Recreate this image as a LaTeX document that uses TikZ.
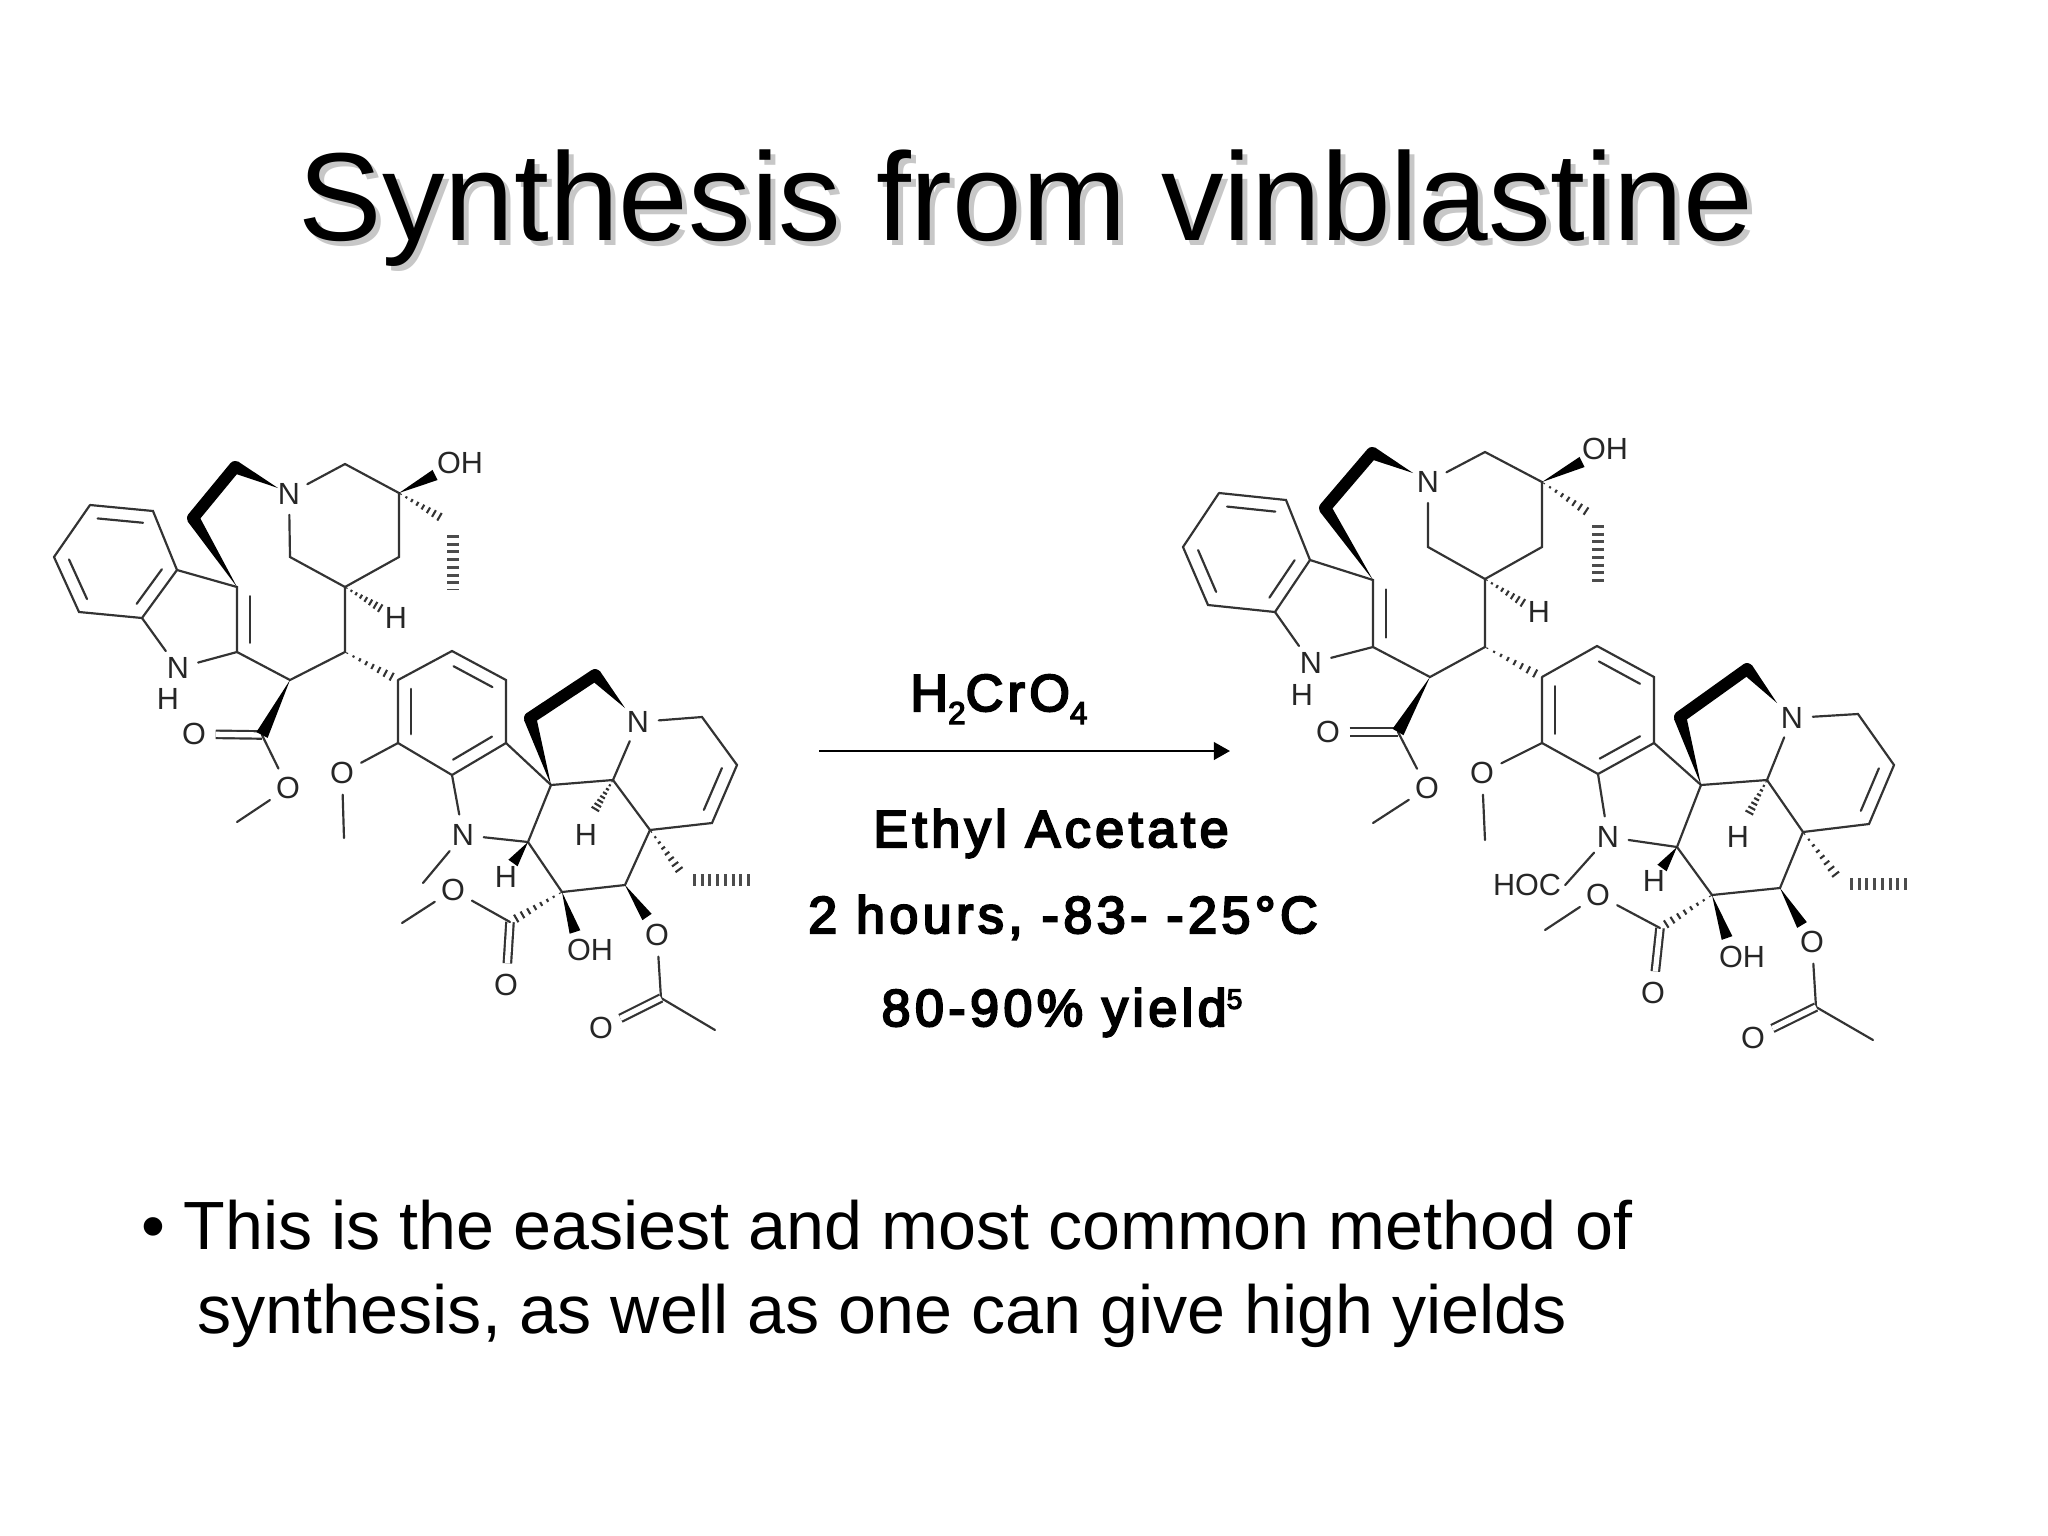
\documentclass[tikz,border=0pt]{standalone}
\usepackage{fontspec}
\setmainfont{Liberation Sans}
\newfontfamily\reagentfont[LetterSpace=8.5,FakeBold=4]{Liberation Sans}
\usetikzlibrary{calc,arrows.meta}
\tikzset{
  atom/.style={circle,inner sep=1pt,text=black!85,font=\fontsize{8.7}{10}\selectfont},
  bond/.style={draw=black!80,line width=0.62pt,line cap=round},
  dbond/.style={bond,line cap=butt,double=white,double distance=1.5pt},
  thickbond/.style={draw=black,line width=3.4pt,line cap=round},
  methylhash/.style={draw=black!70,line width=3.2pt,dash pattern=on 0.8pt off 1.4pt},
  reagent/.style={anchor=base,inner sep=0pt,font=\fontsize{14.8}{18}\selectfont\reagentfont},
  titletext/.style={anchor=base west,inner sep=0pt,font=\fontsize{35.6}{40}\selectfont},
  bodytext/.style={anchor=base west,inner sep=0pt,font=\fontsize{19.4}{22}\selectfont}
}
% narrow at #2, wide at #3
\newcommand{\wedgebond}[3][1.6pt]{\fill[black] (#2)--($(#3)!#1!90:(#2)$)--($(#3)!#1!-90:(#2)$)--cycle;}
\newcommand{\hashbond}[2]{\foreach \t in {0.04,0.16,...,0.96}{
  \pgfmathsetmacro{\hw}{\t*1.3+0.1}
  \draw[draw=black!80,line width=0.6pt] ($(#1)!\t!(#2)!\hw pt!90:(#2)$)--($(#1)!\t!(#2)!\hw pt!-90:(#2)$);}}
% short inner line of a double bond, on the right hand of #1 to #2
\newcommand{\innerbond}[2]{\draw[bond] ($(#1)!.14!(#2)!3.6pt!-90:(#2)$)--($(#2)!.14!(#1)!3.6pt!90:(#1)$);}
\newcommand{\subnum}[1]{\raisebox{-0.25em}{\fontsize{9}{9}\selectfont #1}}
\begin{document}
\begin{tikzpicture}[x=0.01cm,y=-0.01cm]
\useasboundingbox (0,0) rectangle (2048,1536);
\node[titletext,text=black!22] (titleshadow) at (303,245) {Synthesis from vinblastine};
\node[titletext] (title) at (298,240) {Synthesis from vinblastine};
% left molecule, upper half
\coordinate (lA1) at (90,505);
\coordinate (lA2) at (153,511);
\coordinate (lA3) at (177,570);
\coordinate (lA4) at (142,618);
\coordinate (lA5) at (79,612);
\coordinate (lA6) at (54,557);
\coordinate (lC3) at (237,587);
\coordinate (lC2) at (237,652);
\coordinate (lC16) at (290,680);
\coordinate (lC17) at (262,735);
\coordinate (lC18) at (345,652);
\coordinate (lC19) at (345,587);
\coordinate (lC20) at (290,557);
\coordinate (lC21) at (345,464);
\coordinate (lC22) at (399,493);
\coordinate (lC23) at (399,557);
\coordinate (lP1) at (193,518);
\coordinate (lP2) at (235,467);
\coordinate (lP5) at (278,488);
\coordinate (lW4) at (435,475);
\coordinate (lH2e) at (385,611);
\coordinate (lE1) at (445,520);
\coordinate (lE2) at (453,535);
\coordinate (lE3) at (453,590);
\coordinate (lMe1) at (237,822);
\node[atom] (lN1) at (178,668) {N};
\node[atom] (lH1) at (168,699) {H};
\node[atom] (lN2) at (289,494) {N};
\node[atom] (lO1) at (194,734) {O};
\node[atom] (lO2) at (288,788) {O};
\node[atom] (lOH1) at (460,463) {OH};
\node[atom] (lH2) at (396,618) {H};
\draw[bond] (lA1)--(lA2)--(lA3)--(lA4)--(lA5)--(lA6)--(lA1);
\innerbond{lA1}{lA2}
\innerbond{lA3}{lA4}
\innerbond{lA5}{lA6}
\draw[bond] (lA3)--(lC3)--(lC2)--(lN1)--(lA4);
\innerbond{lC2}{lC3}
\draw[bond] (lC2)--(lC16)--(lC18)--(lC19)--(lC20)--(lN2)--(lC21)--(lC22)--(lC23)--(lC19);
\draw[dbond] (lO1)--(lC17);
\draw[bond] (lC17)--(lO2)--(lMe1);
\wedgebond[1.8pt]{lC16}{lC17}
\wedgebond[1.8pt]{lC3}{lP1}
\draw[thickbond] (lP1)--(lP2);
\wedgebond[1.8pt]{lP5}{lP2}
\wedgebond{lC22}{lW4}
\hashbond{lC19}{lH2e}
\hashbond{lC22}{lE1}
\draw[methylhash] (lE2)--(lE3);
% left molecule, lower half
\coordinate (lR1) at (398,680);
\coordinate (lR2) at (452,651);
\coordinate (lR3) at (506,680);
\coordinate (lR4) at (506,743);
\coordinate (lR5) at (452,775);
\coordinate (lR6) at (398,743);
\coordinate (lC4) at (528,842);
\coordinate (lC5) at (551,785);
\coordinate (lC6) at (613,780);
\coordinate (lC7) at (650,830);
\coordinate (lC8) at (625,885);
\coordinate (lC9) at (562,892);
\coordinate (lC10) at (702,717);
\coordinate (lC11) at (737,765);
\coordinate (lC12) at (712,823);
\coordinate (lC13) at (510,922);
\coordinate (lC14) at (661,998);
\coordinate (lP3) at (530,718);
\coordinate (lP4) at (595,675);
\coordinate (lP6) at (625,708);
\coordinate (lH3e) at (593,813);
\coordinate (lW1) at (513,863);
\coordinate (lW2) at (575,932);
\coordinate (lW3) at (647,917);
\coordinate (lE4) at (683,875);
\coordinate (lE5) at (693,880);
\coordinate (lE6) at (751,880);
\coordinate (lMe2) at (344,838);
\coordinate (lMe3) at (423,883);
\coordinate (lMe4) at (402,923);
\coordinate (lMe5) at (715,1030);
\node[atom] (lO3) at (342,773) {O};
\node[atom] (lN3) at (463,835) {N};
\node[atom] (lN4) at (638,722) {N};
\node[atom] (lH3) at (586,835) {H};
\node[atom] (lH4) at (506,877) {H};
\node[atom] (lOH2) at (590,950) {OH};
\node[atom] (lO5) at (506,985) {O};
\node[atom] (lO6) at (453,890) {O};
\node[atom] (lO7) at (657,935) {O};
\node[atom] (lO8) at (601,1028) {O};
\draw[bond] (lR1)--(lR2)--(lR3)--(lR4)--(lR5)--(lR6)--(lR1);
\innerbond{lR6}{lR1}
\innerbond{lR2}{lR3}
\innerbond{lR4}{lR5}
\draw[bond] (lR6)--(lO3)--(lMe2);
\draw[bond] (lR5)--(lN3)--(lC4)--(lC5)--(lR4);
\draw[bond] (lN3)--(lMe3);
\draw[bond] (lC5)--(lC6)--(lC7)--(lC8)--(lC9)--(lC4);
\draw[bond] (lC6)--(lN4)--(lC10)--(lC11)--(lC12)--(lC7);
\innerbond{lC11}{lC12}
\draw[dbond] (lC13)--(lO5);
\draw[bond] (lC13)--(lO6)--(lMe4);
\draw[bond] (lO7)--(lC14)--(lMe5);
\draw[dbond] (lC14)--(lO8);
\wedgebond[1.8pt]{lC5}{lP3}
\draw[thickbond] (lP3)--(lP4);
\wedgebond[1.8pt]{lP6}{lP4}
\wedgebond{lC4}{lW1}
\wedgebond{lC9}{lW2}
\wedgebond{lC8}{lW3}
\hashbond{lC18}{lR1}
\hashbond{lC6}{lH3e}
\hashbond{lC7}{lE4}
\hashbond{lC9}{lC13}
\draw[methylhash] (lE5)--(lE6);
% reagents
\coordinate (arrowstart) at (819,751);
\coordinate (arrowend) at (1230,751);
\draw[line width=0.7pt,-{Triangle[length=4.6pt,width=5pt]}] (arrowstart)--(arrowend);
\node[reagent] (oxidant) at (999,711) {H\subnum{2}CrO\subnum{4}};
\node[reagent] (solvent) at (1051,847) {Ethyl Acetate};
\node[reagent] (hours) at (1063,933) {2 hours, -83- -25°C};
\node[reagent] (yield) at (1062,1026) {80-90\% yield\raisebox{0.33em}{\fontsize{8}{8}\selectfont 5}};
% right molecule, upper half
\coordinate (rA1) at (1219,493);
\coordinate (rA2) at (1286,500);
\coordinate (rA3) at (1310,560);
\coordinate (rA4) at (1275,612);
\coordinate (rA5) at (1208,605);
\coordinate (rA6) at (1183,547);
\coordinate (rC3) at (1373,580);
\coordinate (rC2) at (1373,647);
\coordinate (rC16) at (1430,677);
\coordinate (rC17) at (1398,732);
\coordinate (rC18) at (1485,647);
\coordinate (rC19) at (1485,579);
\coordinate (rC20) at (1428,547);
\coordinate (rC21) at (1485,452);
\coordinate (rC22) at (1542,482);
\coordinate (rC23) at (1542,547);
\coordinate (rP1) at (1325,508);
\coordinate (rP2) at (1372,453);
\coordinate (rP5) at (1413,473);
\coordinate (rW4) at (1582,462);
\coordinate (rH2e) at (1528,606);
\coordinate (rE1) at (1592,515);
\coordinate (rE2) at (1598,525);
\coordinate (rE3) at (1598,582);
\coordinate (rMe1) at (1373,823);
\node[atom] (rN1) at (1311,663) {N};
\node[atom] (rH1) at (1302,695) {H};
\node[atom] (rN2) at (1428,482) {N};
\node[atom] (rO1) at (1328,732) {O};
\node[atom] (rO2) at (1427,788) {O};
\node[atom] (rOH1) at (1605,449) {OH};
\node[atom] (rH2) at (1539,612) {H};
\draw[bond] (rA1)--(rA2)--(rA3)--(rA4)--(rA5)--(rA6)--(rA1);
\innerbond{rA1}{rA2}
\innerbond{rA3}{rA4}
\innerbond{rA5}{rA6}
\draw[bond] (rA3)--(rC3)--(rC2)--(rN1)--(rA4);
\innerbond{rC2}{rC3}
\draw[bond] (rC2)--(rC16)--(rC18)--(rC19)--(rC20)--(rN2)--(rC21)--(rC22)--(rC23)--(rC19);
\draw[dbond] (rO1)--(rC17);
\draw[bond] (rC17)--(rO2)--(rMe1);
\wedgebond[1.8pt]{rC16}{rC17}
\wedgebond[1.8pt]{rC3}{rP1}
\draw[thickbond] (rP1)--(rP2);
\wedgebond[1.8pt]{rP5}{rP2}
\wedgebond{rC22}{rW4}
\hashbond{rC19}{rH2e}
\hashbond{rC22}{rE1}
\draw[methylhash] (rE2)--(rE3);
% right molecule, lower half
\coordinate (rR1) at (1542,677);
\coordinate (rR2) at (1597,646);
\coordinate (rR3) at (1654,677);
\coordinate (rR4) at (1654,743);
\coordinate (rR5) at (1598,774);
\coordinate (rR6) at (1542,743);
\coordinate (rC4) at (1677,847);
\coordinate (rC5) at (1701,785);
\coordinate (rC6) at (1767,780);
\coordinate (rC7) at (1803,832);
\coordinate (rC8) at (1780,888);
\coordinate (rC9) at (1712,895);
\coordinate (rC10) at (1858,714);
\coordinate (rC11) at (1894,765);
\coordinate (rC12) at (1869,824);
\coordinate (rC13) at (1660,928);
\coordinate (rC14) at (1816,1007);
\coordinate (rP3) at (1680,717);
\coordinate (rP4) at (1747,669);
\coordinate (rP6) at (1777,703);
\coordinate (rH3e) at (1747,817);
\coordinate (rW1) at (1662,868);
\coordinate (rW2) at (1727,938);
\coordinate (rW3) at (1802,925);
\coordinate (rE4) at (1840,880);
\coordinate (rE5) at (1850,884);
\coordinate (rE6) at (1909,884);
\coordinate (rMe2) at (1485,840);
\coordinate (rMe4) at (1545,930);
\coordinate (rMe5) at (1873,1040);
\node[atom] (rO3) at (1482,773) {O};
\node[atom] (rN3) at (1608,837) {N};
\node[atom] (rN4) at (1792,718) {N};
\node[atom] (rH3) at (1738,837) {H};
\node[atom] (rH4) at (1654,881) {H};
\node[atom] (rOH2) at (1742,957) {OH};
\node[atom] (rO5) at (1653,993) {O};
\node[atom] (rO6) at (1598,895) {O};
\node[atom] (rO7) at (1812,942) {O};
\node[atom] (rO8) at (1753,1038) {O};
\node[atom,rectangle,inner sep=1pt] (rHOC) at (1527,885) {HOC};
\draw[bond] (rR1)--(rR2)--(rR3)--(rR4)--(rR5)--(rR6)--(rR1);
\innerbond{rR6}{rR1}
\innerbond{rR2}{rR3}
\innerbond{rR4}{rR5}
\draw[bond] (rR6)--(rO3)--(rMe2);
\draw[bond] (rR5)--(rN3)--(rC4)--(rC5)--(rR4);
\draw[bond] (rN3)--(rHOC.east);
\draw[bond] (rC5)--(rC6)--(rC7)--(rC8)--(rC9)--(rC4);
\draw[bond] (rC6)--(rN4)--(rC10)--(rC11)--(rC12)--(rC7);
\innerbond{rC11}{rC12}
\draw[dbond] (rC13)--(rO5);
\draw[bond] (rC13)--(rO6)--(rMe4);
\draw[bond] (rO7)--(rC14)--(rMe5);
\draw[dbond] (rC14)--(rO8);
\wedgebond[1.8pt]{rC5}{rP3}
\draw[thickbond] (rP3)--(rP4);
\wedgebond[1.8pt]{rP6}{rP4}
\wedgebond{rC4}{rW1}
\wedgebond{rC9}{rW2}
\wedgebond{rC8}{rW3}
\hashbond{rC18}{rR1}
\hashbond{rC6}{rH3e}
\hashbond{rC7}{rE4}
\hashbond{rC9}{rC13}
\draw[methylhash] (rE5)--(rE6);
% bullet text
\node[bodytext] (bullet) at (141,1249) {•};
\node[bodytext] (lineone) at (183,1249) {This is the easiest and most common method of};
\node[bodytext] (linetwo) at (197,1333) {synthesis, as well as one can give high yields};
\end{tikzpicture}
\end{document}
